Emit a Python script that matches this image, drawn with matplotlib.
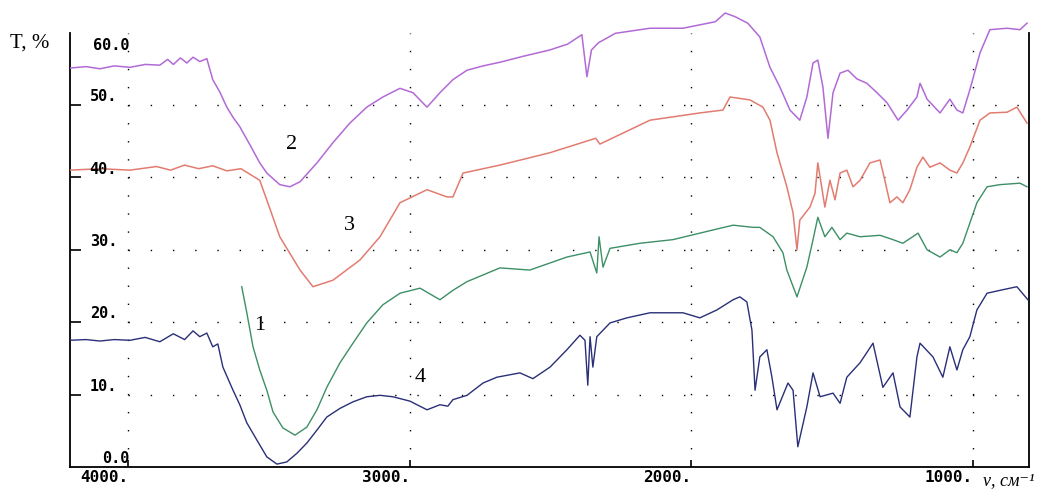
import matplotlib
matplotlib.use("Agg")
from matplotlib import pyplot as plt
from matplotlib import transforms
import numpy as np

# spectrum 2 (violet)
wn2 = [4207, 4150, 4101, 4050, 3994, 3940, 3888, 3860, 3840, 3815, 3792, 3770, 3746, 3721,
       3700, 3675, 3650, 3628, 3604, 3568, 3533, 3508, 3462, 3426, 3390, 3330, 3273, 3213,
       3153, 3096, 3035, 2989, 2939, 2893, 2847, 2797, 2740, 2680, 2600, 2503, 2440, 2389,
       2371, 2355, 2330, 2270, 2147, 2030, 1915, 1880, 1845, 1800, 1757, 1721, 1686, 1650,
       1615, 1590, 1568, 1551, 1533, 1515, 1497, 1472, 1444, 1412, 1377, 1341, 1305, 1266,
       1234, 1199, 1188, 1163, 1117, 1082, 1057, 1036, 1011, 975, 940, 879, 833, 808]
t2 = [55.1, 55.3, 55.0, 55.4, 55.2, 55.6, 55.5, 56.3, 55.6, 56.5, 55.8, 56.6, 56.0, 56.4,
      53.5, 51.8, 49.7, 48.3, 47.0, 44.5, 42.0, 40.6, 39.0, 38.7, 39.4, 42.0, 44.8, 47.5,
      49.7, 51.1, 52.3, 51.7, 49.7, 51.7, 53.5, 54.8, 55.4, 55.9, 56.7, 57.6, 58.4, 59.7,
      53.9, 57.6, 58.6, 59.9, 60.6, 60.6, 61.5, 62.7, 62.2, 61.3, 59.4, 55.2, 52.5, 49.3,
      47.9, 51.1, 55.8, 56.2, 52.5, 45.4, 51.7, 54.4, 54.8, 53.6, 53.0, 51.7, 50.3, 47.9,
      49.3, 51.1, 53.0, 50.8, 48.9, 50.8, 49.3, 48.9, 52.1, 57.2, 60.4, 60.6, 60.4, 61.3]

# spectrum 3 (red)
wn3 = [4207, 4100, 3994, 3900, 3850, 3800, 3750, 3700, 3650, 3600, 3533, 3500, 3462, 3390,
       3344, 3273, 3177, 3106, 3035, 2939, 2868, 2847, 2811, 2680, 2503, 2340, 2325, 2147,
       1970, 1888, 1863, 1792, 1746, 1721, 1696, 1661, 1639, 1625, 1615, 1579, 1561, 1551,
       1526, 1508, 1490, 1472, 1448, 1426, 1401, 1366, 1330, 1313, 1295, 1270, 1249, 1224,
       1199, 1178, 1153, 1117, 1082, 1057, 1036, 1011, 975, 940, 879, 844, 808]
t3 = [41.0, 41.2, 41.0, 41.5, 41.0, 41.7, 41.2, 41.6, 40.9, 41.2, 39.6, 36.0, 31.8, 27.2,
      24.9, 25.8, 28.6, 31.8, 36.5, 38.3, 37.3, 37.3, 40.6, 41.7, 43.4, 45.4, 44.6, 47.9,
      48.9, 49.3, 51.1, 50.7, 49.7, 47.9, 43.4, 38.7, 35.1, 30.0, 34.1, 35.9, 37.8, 42.0,
      35.9, 39.6, 36.9, 40.6, 41.0, 38.7, 39.6, 42.0, 42.4, 39.6, 36.5, 37.3, 36.5, 38.3,
      41.4, 42.8, 41.4, 42.0, 41.0, 40.6, 42.0, 44.2, 47.9, 48.9, 49.0, 49.7, 47.5]

# spectrum 1 (green)
wn1 = [3597, 3579, 3557, 3533, 3508, 3486, 3451, 3408, 3366, 3330, 3295, 3248, 3202, 3153,
       3096, 3035, 2964, 2893, 2847, 2797, 2680, 2574, 2442, 2360, 2336, 2328, 2314, 2289,
       2183, 2066, 1970, 1852, 1781, 1757, 1710, 1675, 1661, 1625, 1590, 1568, 1551, 1526,
       1501, 1472, 1448, 1401, 1330, 1284, 1249, 1195, 1163, 1117, 1082, 1057, 1036, 1011,
       986, 950, 904, 833, 808]
t1 = [24.9, 21.3, 16.6, 13.4, 10.6, 7.6, 5.4, 4.4, 5.5, 7.9, 11.0, 14.4, 17.1, 19.9,
      22.4, 24.0, 24.7, 23.1, 24.4, 25.6, 27.5, 27.2, 29.0, 29.7, 26.8, 31.8, 27.6, 30.2,
      30.9, 31.4, 32.3, 33.4, 33.1, 33.1, 31.8, 29.6, 27.2, 23.5, 27.6, 31.4, 34.5, 31.8,
      33.1, 31.4, 32.3, 31.8, 32.0, 31.4, 30.9, 32.3, 30.0, 29.0, 30.0, 29.6, 30.9, 33.7,
      36.5, 38.7, 39.0, 39.2, 38.7]

# spectrum 4 (navy)
wn4 = [4207, 4150, 4101, 4050, 3994, 3940, 3888, 3840, 3800, 3770, 3746, 3721, 3700, 3682,
       3664, 3628, 3604, 3579, 3543, 3508, 3472, 3437, 3401, 3366, 3330, 3295, 3248, 3202,
       3153, 3106, 3060, 3000, 2939, 2893, 2865, 2847, 2797, 2740, 2691, 2609, 2563, 2502,
       2442, 2396, 2378, 2368, 2360, 2350, 2336, 2289, 2229, 2147, 2030, 1970, 1909, 1852,
       1828, 1803, 1785, 1774, 1757, 1732, 1714, 1696, 1657, 1639, 1622, 1590, 1568, 1543,
       1497, 1472, 1448, 1401, 1355, 1320, 1284, 1259, 1224, 1199, 1188, 1142, 1107, 1082,
       1057, 1036, 1011, 986, 950, 904, 844, 805]
t4 = [17.5, 17.6, 17.4, 17.6, 17.5, 17.9, 17.3, 18.4, 17.6, 18.8, 18.0, 18.5, 16.6, 17.0,
      13.8, 10.6, 8.6, 6.1, 3.7, 1.4, 0.4, 0.7, 1.9, 3.3, 5.1, 6.9, 8.1, 9.0,
      9.7, 9.9, 9.7, 9.1, 7.9, 8.6, 8.4, 9.3, 9.9, 11.6, 12.4, 13.0, 12.2, 13.8,
      16.2, 18.2, 17.5, 11.3, 18.0, 13.8, 18.0, 19.9, 20.6, 21.3, 21.3, 20.6, 21.7, 23.1,
      23.5, 22.8, 18.9, 10.6, 15.2, 16.2, 12.4, 7.9, 11.6, 10.6, 2.8, 8.3, 13.0, 9.7,
      10.2, 8.8, 12.4, 14.4, 17.1, 11.0, 13.0, 8.3, 6.9, 15.2, 17.1, 15.2, 12.4, 16.6,
      13.4, 16.2, 18.0, 21.7, 24.0, 24.4, 24.9, 23.1]

x_ticks = [4000, 3000, 2000, 1000]
x_labels = ["4000.", "3000.", "2000.", "1000."]
y_ticks = [0, 10, 20, 30, 40, 50, 60]
y_labels = ["0.0", "10.", "20.", "30.", "40.", "50.", "60.0"]

fig = plt.figure(figsize=(10.37, 4.91), dpi=100)
ax = fig.add_axes([70 / 1037, 24 / 491, 959 / 1037, 467 / 491])
ax.set_xlim(4207, 801)
ax.set_ylim(0, 64.5)

# dotted grid
for yv in y_ticks[1:-1]:
    ax.plot([4000, 801], [yv, yv], color="black", lw=1.0, ls=(0, (1, 15)), zorder=1)
for xv in x_ticks:
    ax.plot([xv, xv], [0, 60], color="black", lw=1.0, ls=(0, (1, 12)), zorder=1)

ax.plot(wn2, t2, color="#b26ad6", lw=1.1, zorder=3)
ax.plot(wn3, t3, color="#e27c70", lw=1.1, zorder=3)
ax.plot(wn1, t1, color="#3d8f66", lw=1.0, zorder=3)
ax.plot(wn4, t4, color="#2a2f78", lw=1.0, zorder=3)

serif = ["Liberation Serif", "DejaVu Serif"]
ax.text(3419, 44.5, "2", family=serif, fontsize=16, ha="center", va="center")
ax.text(3213, 33.3, "3", family=serif, fontsize=16, ha="center", va="center")
ax.text(3533, 19.5, "1", family=serif, fontsize=16, ha="center", va="center")
ax.text(2964, 12.3, "4", family=serif, fontsize=16, ha="center", va="center")

# frame: no top, left/right up to 60
ax.spines["top"].set_visible(False)
for s in ["left", "right", "bottom"]:
    ax.spines[s].set_linewidth(1.3)
ax.spines["left"].set_bounds(0, 60)
ax.spines["right"].set_bounds(0, 60)

ax.set_xticks(x_ticks)
ax.set_xticklabels(x_labels, family="DejaVu Sans Mono", fontweight="bold", fontsize=11.5)
offset = transforms.ScaledTranslation(9 / 100, 0, fig.dpi_scale_trans)
for lab in ax.get_xticklabels():
    lab.set_horizontalalignment("right")
    lab.set_transform(lab.get_transform() + offset)
ax.tick_params(axis="x", direction="in", length=5, width=1.2, pad=2)

ax.set_yticks(y_ticks[1:-1])
ax.set_yticklabels([])
ax.tick_params(axis="y", direction="in", length=8, width=1.2)

for yv, lab in zip(y_ticks, y_labels):
    if yv == 60:
        ax.text(3994, 59.2, lab, family="DejaVu Sans Mono", fontweight="bold",
                fontsize=11, ha="right", va="top")
    elif yv == 0:
        ax.text(3994, 0.1, lab, family="DejaVu Sans Mono", fontweight="bold",
                fontsize=11, ha="right", va="bottom")
    else:
        ax.text(4040, yv + 0.1, lab, family="DejaVu Sans Mono", fontweight="bold",
                fontsize=11, ha="right", va="bottom")

fig.text(10 / 1037, 1 - 43 / 491, "T, %", family=serif, fontsize=15, va="center")
fig.text(1034 / 1037, 1 - 481 / 491, "ν, см⁻¹", family=serif, fontsize=13,
         va="center", ha="right", style="italic")

fig.savefig("out.png", dpi=100)
